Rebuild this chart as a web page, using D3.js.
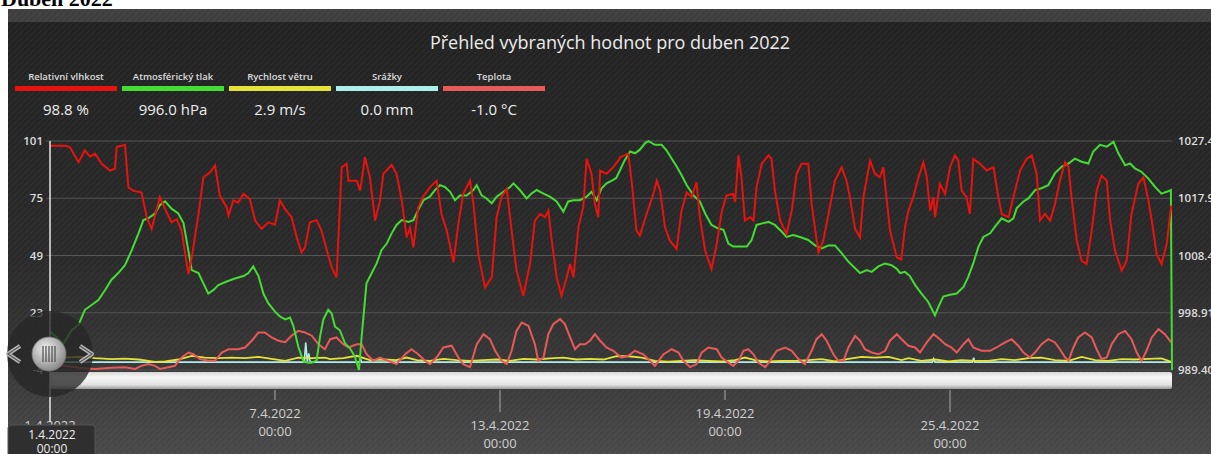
<!DOCTYPE html>
<html>
<head>
<meta charset="utf-8">
<script src="https://cdn.jsdelivr.net/npm/d3@7"></script>
<style>
  body { margin: 0; background: #fff; }
  svg { display: block; font-family: "Open Sans", "DejaVu Sans", sans-serif; }
</style>
</head>
<body>
<svg id="chart" width="1211" height="454"></svg>
<script>
//  series names, colours and current values (legend)
const seriesNames  = ["Relativní vlhkost", "Atmosférický tlak", "Rychlost větru", "Srážky", "Teplota"];
const seriesColors = ["#e8130f", "#45dc35", "#e4e236", "#aeeeec", "#e85a58"];
const currentVals  = ["98.8 %", "996.0 hPa", "2.9 m/s", "0.0 mm", "-1.0 °C"];

//  axis ticks
const leftTicks  = [-3.6, 22.6, 48.8, 75, 101.2];
const rightTicks = [989.40, 998.91, 1008.42, 1017.93, 1027.44];
const dateTicks  = ["2022-04-01", "2022-04-07", "2022-04-13", "2022-04-19", "2022-04-25"];

//  data: [days since 1.4.2022 00:00, value]
const humidity = [
  [0,99],[0.4,99],[0.53,98.4],[0.76,91.5],[0.93,96.9],[1.07,94],[1.2,95.4],[1.38,90.8],[1.6,87.7],[1.73,88.5],
  [1.78,98.4],[2.0,99.5],[2.09,80],[2.22,78.5],[2.44,77.6],[2.58,66.3],[2.71,61],[2.93,75.5],[3.07,70],[3.24,64],
  [3.38,65.5],[3.51,60.2],[3.69,40.3],[3.78,48],[3.96,67.8],[4.09,84.6],[4.27,86.9],[4.4,90],[4.53,76.2],[4.71,70.9],
  [4.76,67],[4.89,74],[5.02,73],[5.16,77],[5.33,74.5],[5.47,64.8],[5.64,61],[5.82,64],[6.0,62.9],[6.13,74],
  [6.27,70],[6.44,66.3],[6.58,57.1],[6.71,50.2],[6.8,52.5],[6.93,64],[7.11,65],[7.24,60.2],[7.42,48.7],[7.52,43],
  [7.64,38.8],[7.78,89.2],[7.91,90.8],[7.96,83],[8.18,83],[8.27,78.5],[8.4,93.8],[8.53,84.6],[8.67,64.8],[8.8,74],
  [8.89,86.2],[9.11,90.3],[9.24,86.2],[9.38,74],[9.51,57.1],[9.6,61.4],[9.69,52.5],[9.82,70.9],[9.96,76],[10.13,80],
  [10.31,83],[10.44,67.8],[10.58,60.2],[10.76,45.7],[10.89,63.4],[11.02,77],[11.2,83],[11.29,72.5],[11.42,49.5],[11.6,34.2],
  [11.78,38.8],[11.91,66.3],[12.04,75.5],[12.18,79.3],[12.31,60.2],[12.44,41.9],[12.62,30.4],[12.8,44.9],[12.93,64.8],[13.07,67.8],
  [13.2,66.3],[13.29,69.3],[13.38,55.6],[13.51,38.8],[13.64,30.4],[13.78,38.8],[13.87,44.9],[13.96,38.8],[14.09,61.7],[14.22,70.9],
  [14.31,93],[14.44,86.2],[14.53,72.4],[14.62,66.3],[14.67,87.7],[14.84,86.2],[15.02,89.2],[15.16,92.3],[15.2,93.8],[15.42,95.4],
  [15.51,83],[15.64,60.2],[15.73,57.9],[15.91,67.8],[16.09,77],[16.18,83],[16.27,78.5],[16.4,61.7],[16.53,55.6],[16.71,51.8],
  [16.84,69.3],[16.98,77.7],[17.11,75.5],[17.24,82.3],[17.33,66.3],[17.47,51],[17.64,42.6],[17.78,54.1],[17.91,68.6],[18.04,76.3],
  [18.22,77],[18.27,73.3],[18.36,94.6],[18.44,84.6],[18.53,64.8],[18.67,66.3],[18.76,64.8],[18.84,80],[18.98,90.8],[19.16,94.6],
  [19.24,93],[19.33,78.5],[19.47,64.8],[19.64,58.7],[19.78,69.3],[19.91,86.2],[20.04,90.8],[20.22,90.8],[20.31,72.4],[20.49,50.2],
  [20.62,55.6],[20.76,67.8],[20.93,83],[21.11,89.2],[21.24,83],[21.33,75.5],[21.47,61],[21.6,57.1],[21.69,75.5],[21.87,92.3],
  [22.0,86.2],[22.13,84.6],[22.22,89.2],[22.4,60.2],[22.58,48],[22.7,47],[22.8,61.7],[22.89,69.3],[23.02,75.5],[23.16,84.6],
  [23.29,91.5],[23.38,84.6],[23.47,69.3],[23.56,75.5],[23.6,66.3],[23.73,81.6],[23.87,77],[24.0,89.2],[24.13,94.6],[24.22,92.3],
  [24.31,78.5],[24.44,75.5],[24.53,67.8],[24.62,93],[24.8,90.8],[24.98,87.7],[25.16,89.2],[25.29,75.5],[25.38,67.8],[25.56,66.3],
  [25.69,75.5],[25.87,87.7],[26.04,93],[26.18,94.6],[26.31,86.2],[26.4,64.8],[26.53,67.8],[26.67,64.8],[26.8,72.4],[26.93,83],
  [27.07,91.5],[27.16,89.2],[27.24,75.5],[27.38,55.6],[27.51,46.4],[27.64,44.9],[27.78,60.2],[27.91,78.5],[28.04,85.4],[28.18,83],
  [28.27,64.8],[28.4,51],[28.58,41.9],[28.71,46.4],[28.84,67.8],[29.02,81.6],[29.16,84.6],[29.29,74],[29.38,64.8],[29.51,49.5],
  [29.64,44.9],[29.78,54.1],[29.9,71.7]
];

const pressure = [
  [0,995.8],[0.36,993.8],[0.58,996.0],[0.76,996.9],[0.93,999.4],[1.11,1000.2],[1.29,1001.0],[1.47,1002.7],[1.64,1004.4],[1.82,1005.5],
  [2.0,1006.8],[2.18,1009.3],[2.36,1012.1],[2.49,1014.3],[2.62,1014.6],[2.8,1015.4],[2.93,1016.8],[3.07,1017.4],[3.24,1016.2],[3.42,1015.4],
  [3.56,1013.8],[3.64,1011.0],[3.78,1006.0],[3.96,1005.5],[4.09,1003.8],[4.22,1002.1],[4.36,1002.7],[4.49,1003.5],[4.71,1004.1],[4.93,1004.6],
  [5.16,1005.0],[5.29,1005.5],[5.42,1006.6],[5.56,1005.0],[5.69,1002.1],[5.82,1000.5],[6.0,999.1],[6.13,998.3],[6.27,997.8],[6.4,998.1],
  [6.49,996.7],[6.62,993.3],[6.76,990.8],[6.89,990.6],[6.98,990.6],[7.11,991.0],[7.2,994.9],[7.29,997.8],[7.42,999.4],[7.51,998.8],
  [7.6,996.6],[7.73,996.0],[7.87,993.8],[8.0,993.0],[8.13,991.6],[8.24,989.4],[8.31,994.9],[8.44,1003.8],[8.58,1005.5],[8.71,1007.1],
  [8.84,1009.3],[8.98,1010.4],[9.11,1012.1],[9.24,1013.5],[9.38,1014.3],[9.56,1014.0],[9.69,1014.3],[9.82,1016.0],[9.96,1017.6],[10.13,1018.2],
  [10.27,1019.3],[10.4,1020.1],[10.53,1019.8],[10.67,1019.0],[10.8,1017.6],[10.93,1018.4],[11.11,1018.4],[11.29,1019.3],[11.38,1020.1],[11.51,1018.4],
  [11.64,1017.9],[11.78,1017.1],[11.91,1018.2],[12.09,1019.0],[12.27,1019.8],[12.36,1020.4],[12.53,1019.3],[12.71,1017.9],[12.84,1018.7],[12.98,1019.3],
  [13.16,1018.7],[13.33,1018.2],[13.51,1017.4],[13.69,1015.7],[13.82,1017.4],[13.96,1017.6],[14.13,1017.6],[14.31,1018.2],[14.44,1019.0],[14.58,1017.6],
  [14.71,1019.6],[14.84,1020.4],[15.02,1021.0],[15.1,1021.3],[15.2,1022.6],[15.33,1024.3],[15.47,1025.7],[15.6,1025.4],[15.73,1026.0],[15.87,1027.1],
  [15.96,1027.4],[16.13,1026.8],[16.31,1026.8],[16.44,1025.9],[16.58,1024.5],[16.71,1023.2],[16.84,1021.8],[16.98,1020.1],[17.16,1018.4],[17.33,1017.4],
  [17.47,1015.4],[17.64,1013.5],[17.82,1012.9],[17.96,1012.7],[18.09,1010.4],[18.22,1009.9],[18.4,1009.9],[18.58,1009.9],[18.71,1011.0],[18.84,1013.5],
  [19.02,1013.8],[19.16,1014.0],[19.33,1013.5],[19.51,1012.4],[19.64,1011.5],[19.82,1011.8],[20.0,1011.5],[20.22,1011.0],[20.4,1010.1],[20.58,1009.6],
  [20.76,1010.1],[20.93,1010.1],[21.11,1008.8],[21.29,1007.4],[21.47,1006.3],[21.6,1005.5],[21.78,1006.0],[21.91,1005.7],[22.09,1006.6],[22.27,1007.1],
  [22.44,1006.8],[22.58,1006.2],[22.67,1005.5],[22.8,1005.7],[22.93,1005.0],[23.07,1003.5],[23.24,1002.1],[23.42,1000.7],[23.6,998.5],[23.69,999.9],
  [23.82,1001.6],[24.0,1001.9],[24.18,1002.1],[24.36,1003.2],[24.49,1004.9],[24.62,1007.1],[24.76,1009.9],[24.89,1011.5],[25.07,1012.1],[25.2,1013.2],
  [25.38,1014.6],[25.56,1014.0],[25.69,1014.6],[25.78,1016.3],[25.96,1017.4],[26.09,1017.9],[26.27,1019.3],[26.44,1019.6],[26.62,1020.1],[26.8,1022.1],
  [26.98,1023.2],[27.16,1023.7],[27.33,1024.5],[27.51,1024.0],[27.69,1023.7],[27.82,1025.7],[28.0,1026.8],[28.18,1026.5],[28.36,1027.3],[28.49,1025.4],
  [28.67,1023.4],[28.8,1023.7],[28.93,1022.9],[29.11,1022.3],[29.29,1021.2],[29.47,1019.8],[29.64,1018.7],[29.78,1019.0],[29.89,1019.3],[29.92,989.4]
];

const temperature = [
  [0,-0.9],[0.4,-1.7],[0.76,-2.6],[1.2,-3.1],[1.64,-2.6],[2.0,-2.3],[2.27,-3.1],[2.44,-1.7],[2.62,-0.9],[2.8,-1.7],
  [2.93,-3.1],[3.16,-2.3],[3.33,-1.7],[3.51,2.1],[3.69,4.4],[3.82,3.6],[4.0,1.4],[4.22,0.6],[4.4,0.6],[4.58,4.4],
  [4.76,5.9],[5.02,5.9],[5.2,6.7],[5.38,9.8],[5.56,13.6],[5.73,13.6],[5.91,11.3],[6.09,9.8],[6.27,9.1],[6.44,12.1],
  [6.62,14.3],[6.8,13.6],[6.98,12.1],[7.16,8.2],[7.33,5.9],[7.47,10.5],[7.64,11.3],[7.82,8.2],[7.96,6.7],[8.18,8.2],
  [8.31,8.2],[8.44,3.7],[8.62,0.6],[8.8,2.1],[9.02,0.6],[9.24,-0.9],[9.47,3.6],[9.64,5.9],[9.82,3.6],[10.0,0.6],
  [10.13,-0.9],[10.31,2.1],[10.49,6.7],[10.71,7.5],[10.89,2.1],[11.02,-0.9],[11.2,-2.3],[11.38,8.2],[11.56,12.8],[11.73,10.5],
  [11.87,5.2],[12.04,0.6],[12.18,-0.9],[12.31,5.2],[12.44,14.3],[12.58,18.1],[12.76,16.6],[12.93,8.2],[13.02,0.6],[13.16,2.1],
  [13.29,12.8],[13.42,17.4],[13.6,19.7],[13.73,17.4],[13.87,11.3],[14.0,5.9],[14.13,8.2],[14.27,8.2],[14.4,9.8],[14.53,12.8],
  [14.67,9.8],[14.84,6.7],[15.02,5.2],[15.24,2.1],[15.42,2.9],[15.6,5.2],[15.82,3.6],[16.0,0.6],[16.13,-1.7],[16.36,3.6],
  [16.58,5.9],[16.76,4.4],[16.89,0.6],[17.07,-2.3],[17.24,-0.9],[17.38,4.4],[17.56,6.7],[17.78,5.9],[17.91,2.1],[18.09,-0.2],
  [18.22,-1.7],[18.36,0.6],[18.49,5.2],[18.62,5.9],[18.76,3.6],[18.89,-0.2],[19.07,-2.3],[19.2,0.6],[19.38,5.2],[19.6,6.7],
  [19.78,5.2],[19.96,1.4],[20.13,-0.9],[20.31,5.2],[20.44,10.5],[20.58,12.8],[20.71,9.8],[20.89,3.6],[21.02,0.6],[21.16,0.6],
  [21.29,6.7],[21.47,12.0],[21.6,9.8],[21.73,5.9],[21.91,4.4],[22.09,3.6],[22.27,5.2],[22.4,9.8],[22.58,12.8],[22.71,10.5],
  [22.89,7.5],[23.07,6.7],[23.2,4.4],[23.38,9.0],[23.56,12.8],[23.73,10.5],[23.87,8.2],[24.04,6.7],[24.18,4.4],[24.36,8.2],
  [24.49,10.5],[24.62,6.7],[24.84,5.2],[25.07,5.2],[25.24,6.7],[25.47,9.0],[25.64,10.5],[25.82,7.5],[25.96,4.4],[26.13,2.1],
  [26.27,4.4],[26.44,8.2],[26.62,10.5],[26.8,9.0],[26.93,5.9],[27.07,2.1],[27.16,0.6],[27.29,6.7],[27.42,11.3],[27.6,13.6],
  [27.78,11.3],[27.91,5.9],[28.04,1.4],[28.18,2.1],[28.31,8.2],[28.49,12.8],[28.67,14.3],[28.84,10.5],[28.98,4.4],[29.11,0.6],
  [29.24,5.2],[29.38,11.3],[29.56,15.1],[29.73,12.8],[29.9,9.0]
];

const wind = [
  [0,2.9],[0.4,2.1],[0.76,2.4],[1.2,1.8],[1.64,1.4],[2.0,1.6],[2.36,1.2],[2.8,0.1],[3.07,0.3],[3.42,1.2],
  [3.78,2.9],[4.13,2.1],[4.49,1.8],[4.84,2.1],[5.2,1.8],[5.56,2.4],[5.91,1.5],[6.27,0.6],[6.62,2.1],[6.98,1.8],
  [7.33,2.1],[7.47,1.4],[7.82,1.8],[8.18,2.9],[8.53,0.9],[8.89,1.2],[9.24,0.9],[9.51,2.1],[9.78,0.9],[10.13,0.6],
  [10.49,1.5],[10.84,0.9],[11.2,0.6],[11.56,0.9],[11.91,1.2],[12.27,0.6],[12.62,1.5],[12.98,1.2],[13.33,1.7],[13.69,2.1],
  [14.04,1.2],[14.4,1.5],[14.76,1.2],[15.11,2.7],[15.42,2.7],[15.78,2.1],[16.13,0.6],[16.49,0.2],[16.84,0.6],[17.2,0.9],
  [17.56,0.6],[17.91,0.3],[18.27,0.9],[18.53,2.1],[18.8,0.9],[19.16,0.3],[19.51,0.6],[19.87,0.6],[20.22,0.9],[20.58,1.4],
  [20.93,0.3],[21.29,1.5],[21.64,2.4],[22.0,2.1],[22.36,2.4],[22.71,0.9],[22.89,1.8],[23.24,0.6],[23.6,1.2],[23.96,0.3],
  [24.31,0.9],[24.67,0.6],[25.02,0.6],[25.38,1.4],[25.73,0.9],[26.09,1.8],[26.44,2.1],[26.8,0.9],[27.16,0.6],[27.51,2.4],
  [27.87,0.9],[28.22,0.6],[28.58,1.4],[28.93,1.2],[29.29,1.5],[29.64,1.7],[29.9,0.1]
];

const precipitation = [
  [0,0],[6.78,0],[6.82,9],[6.86,0],[6.9,4],[6.94,0],[8.25,0],[8.28,1.5],[8.31,0],
  [23.53,0],[23.56,1.5],[23.6,0],[24.6,0],[24.63,2],[24.66,0],[29.9,0]
];

const svg = d3.select("#chart");
const W = 1211, H = 454;
const plot = {left: 50, right: 1172, top: 141, bottom: 370};

const t0 = new Date(2022, 3, 1);
const toDate = d => new Date(t0.getTime() + d * 864e5);

const x  = d3.scaleTime().domain([t0, toDate(29.92)]).range([plot.left, plot.right]);
const yL = d3.scaleLinear().domain([leftTicks[0], leftTicks[4]]).range([plot.bottom, plot.top]);
const yR = d3.scaleLinear().domain([rightTicks[0], rightTicks[4]]).range([plot.bottom, plot.top]);

const defs = svg.append("defs");

//  background gradient + texture
const bg = defs.append("linearGradient").attr("id", "bg").attr("x1", 0).attr("y1", 0).attr("x2", 0).attr("y2", 1);
bg.append("stop").attr("offset", "0%").attr("stop-color", "#222");
bg.append("stop").attr("offset", "55%").attr("stop-color", "#2a2a2a");
bg.append("stop").attr("offset", "80%").attr("stop-color", "#383838");
bg.append("stop").attr("offset", "100%").attr("stop-color", "#4a4a4a");

const tex = defs.append("pattern").attr("id", "tex").attr("width", 6).attr("height", 6)
  .attr("patternUnits", "userSpaceOnUse");
tex.append("path").attr("d", "M0,6 L6,0").attr("stroke", "#fff").attr("stroke-opacity", 0.035).attr("stroke-width", 1.2);
tex.append("path").attr("d", "M0,2 L2,0").attr("stroke", "#000").attr("stroke-opacity", 0.08).attr("stroke-width", 1);

const bar = defs.append("linearGradient").attr("id", "navbar").attr("x1", 0).attr("y1", 0).attr("x2", 0).attr("y2", 1);
bar.append("stop").attr("offset", "0%").attr("stop-color", "#d8d8d8");
bar.append("stop").attr("offset", "30%").attr("stop-color", "#f7f7f7");
bar.append("stop").attr("offset", "75%").attr("stop-color", "#e2e2e2");
bar.append("stop").attr("offset", "100%").attr("stop-color", "#9a9a9a");

const knob = defs.append("radialGradient").attr("id", "knob").attr("cx", "40%").attr("cy", "35%").attr("r", "65%");
knob.append("stop").attr("offset", "0%").attr("stop-color", "#f0f0f0");
knob.append("stop").attr("offset", "100%").attr("stop-color", "#8a8a8a");

defs.append("clipPath").attr("id", "plotclip").append("rect")
  .attr("x", plot.left).attr("y", plot.top - 6).attr("width", plot.right - plot.left + 1).attr("height", plot.bottom - plot.top + 8);

//  page heading, cut off at the top
svg.append("text").attr("x", 1).attr("y", 6)
  .style("font-family", "'Liberation Serif', serif").style("font-weight", "bold").style("font-size", "22px")
  .attr("fill", "#000").text("Duben 2022");

svg.append("rect").attr("x", 8).attr("y", 9).attr("width", W - 8).attr("height", H - 9).attr("fill", "url(#bg)");
svg.append("rect").attr("x", 8).attr("y", 9).attr("width", W - 8).attr("height", 13).attr("fill", "#3f3f3f");
svg.append("rect").attr("x", 8).attr("y", 9).attr("width", W - 8).attr("height", H - 9).attr("fill", "url(#tex)");

//  title
svg.append("text").attr("x", 610).attr("y", 49).attr("text-anchor", "middle")
  .style("font-size", "18px").attr("fill", "#ececec")
  .text("Přehled vybraných hodnot pro duben 2022");

//  legend
const leg = svg.append("g");
seriesNames.forEach((name, i) => {
  const lx = 15 + i * 107;
  leg.append("text").attr("x", lx + 51).attr("y", 80).attr("text-anchor", "middle")
    .style("font-size", "9.5px").style("font-weight", 600).attr("fill", "#ddd").text(name);
  leg.append("rect").attr("x", lx).attr("y", 86).attr("width", 102).attr("height", 5).attr("fill", seriesColors[i]);
  leg.append("text").attr("x", lx + 51).attr("y", 115).attr("text-anchor", "middle")
    .style("font-size", "15px").attr("fill", "#eee").text(currentVals[i]);
});

//  grid lines
leftTicks.forEach(t => {
  svg.append("line").attr("x1", plot.left - 4).attr("x2", plot.right)
    .attr("y1", yL(t)).attr("y2", yL(t)).attr("stroke", "#555").attr("stroke-width", 1);
});

//  left axis labels
svg.append("g").selectAll("text").data(leftTicks).join("text")
  .attr("x", 43).attr("y", d => yL(d) + 4).attr("text-anchor", "end")
  .style("font-size", "11.5px").style("font-weight", 600).attr("fill", "#ddd")
  .text(d => Math.round(d));

//  right axis labels
svg.append("g").selectAll("text").data(rightTicks).join("text")
  .attr("x", 1178).attr("y", d => yR(d) + 4)
  .style("font-size", "11.5px").style("font-weight", 600).attr("fill", "#ddd")
  .text(d => d.toFixed(2));

//  series lines
const g = svg.append("g").attr("clip-path", "url(#plotclip)");
const lineL = d3.line().x(d => x(toDate(d[0]))).y(d => yL(d[1]));
const lineR = d3.line().x(d => x(toDate(d[0]))).y(d => yR(d[1]));

g.append("path").datum(precipitation).attr("d", lineL).attr("fill", "none")
  .attr("stroke", seriesColors[3]).attr("stroke-width", 1.6);
g.append("path").datum(wind).attr("d", lineL).attr("fill", "none")
  .attr("stroke", seriesColors[2]).attr("stroke-width", 1.8);
g.append("path").datum(temperature).attr("d", lineL).attr("fill", "none")
  .attr("stroke", seriesColors[4]).attr("stroke-width", 2);
g.append("path").datum(pressure).attr("d", lineR).attr("fill", "none")
  .attr("stroke", seriesColors[1]).attr("stroke-width", 2);
g.append("path").datum(humidity).attr("d", lineL).attr("fill", "none")
  .attr("stroke", seriesColors[0]).attr("stroke-width", 2);

//  navigator bar
svg.append("rect").attr("x", plot.left).attr("y", 372).attr("width", plot.right - plot.left).attr("height", 17)
  .attr("rx", 2).attr("fill", "url(#navbar)");

//  date ticks, alternating rows
dateTicks.forEach((s, i) => {
  const d = new Date(s + "T00:00:00");
  const tx = x(d);
  const low = i % 2 == 0;
  if (i > 0) {
    svg.append("line").attr("x1", tx).attr("x2", tx).attr("y1", 390).attr("y2", low ? 412 : 400)
      .attr("stroke", "#aaa").attr("stroke-width", 1);
  }
  const ty = low ? 430 : 418;
  const lbl = d3.timeFormat("%-d.%-m.%Y")(d);
  svg.append("text").attr("x", tx).attr("y", ty).attr("text-anchor", "middle")
    .style("font-size", "13px").attr("fill", "#d0d0d0").text(lbl);
  svg.append("text").attr("x", tx).attr("y", ty + 18).attr("text-anchor", "middle")
    .style("font-size", "13px").attr("fill", "#d0d0d0").text(d3.timeFormat("%H:%M")(d));
});

//  cursor line
svg.append("line").attr("x1", plot.left).attr("x2", plot.left).attr("y1", plot.top).attr("y2", 422)
  .attr("stroke", "#e6e6e6").attr("stroke-width", 1.5);

//  scroll widget
svg.append("circle").attr("cx", 50).attr("cy", 354).attr("r", 43).attr("fill", "#262626").attr("fill-opacity", 0.78);
[[-1, 14], [1, 86]].forEach(([dir, cx]) => {
  const p = `M${cx - dir * 6},${346} L${cx + dir * 6},${354} L${cx - dir * 6},${362}`;
  svg.append("path").attr("d", p).attr("fill", "none").attr("stroke", "#b8b8b8").attr("stroke-width", 4)
    .attr("stroke-linejoin", "round");
  svg.append("path").attr("d", p).attr("fill", "none").attr("stroke", "#5a5a5a").attr("stroke-width", 1.3);
});
svg.append("circle").attr("cx", 49).attr("cy", 354).attr("r", 17).attr("fill", "url(#knob)")
  .attr("stroke", "#777").attr("stroke-width", 0.8);
d3.range(5).forEach(i => {
  svg.append("line").attr("x1", 43 + i * 3).attr("x2", 43 + i * 3).attr("y1", 346).attr("y2", 362)
    .attr("stroke", "#555").attr("stroke-width", 1.3);
});

//  tooltip at cursor
svg.append("rect").attr("x", 8).attr("y", 425).attr("width", 87).attr("height", 34).attr("rx", 3)
  .attr("fill", "#2f2f2f").attr("stroke", "#555");
const tipDate = new Date(dateTicks[0] + "T00:00:00");
svg.append("text").attr("x", 52).attr("y", 439).attr("text-anchor", "middle")
  .style("font-size", "12px").attr("fill", "#eee").text(d3.timeFormat("%-d.%-m.%Y")(tipDate));
svg.append("text").attr("x", 52).attr("y", 453).attr("text-anchor", "middle")
  .style("font-size", "12px").attr("fill", "#eee").text(d3.timeFormat("%H:%M")(tipDate));
</script>
</body>
</html>
